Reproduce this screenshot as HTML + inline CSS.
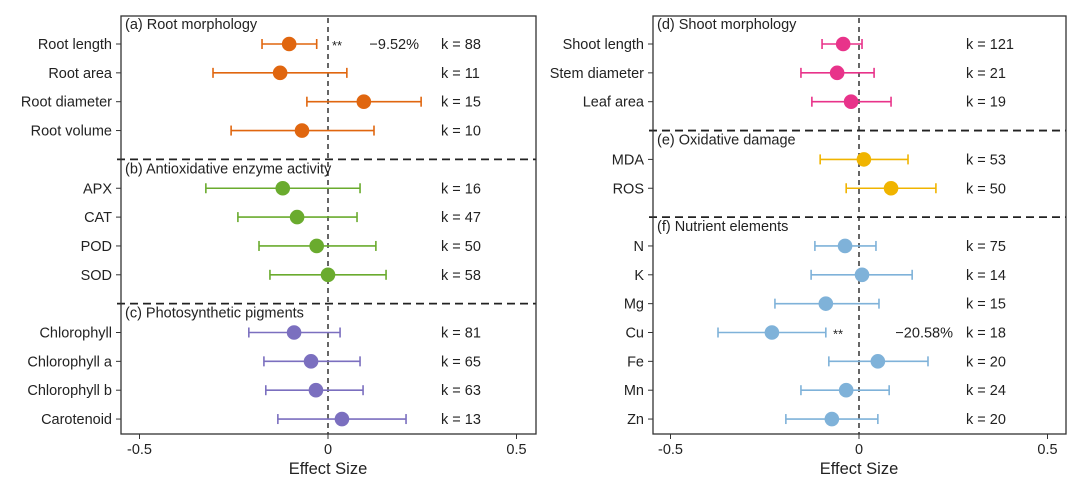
<!DOCTYPE html>
<html><head><meta charset="utf-8"><style>
body{margin:0;background:#fff;}
svg{display:block;font-family:"Liberation Sans",Arial,sans-serif;}
</style></head><body>
<svg id="chart" width="1080" height="480"></svg>
<script>
// Panel 1 data
const leftLabels=["Root length","Root area","Root diameter","Root volume",null,"APX","CAT","POD","SOD",null,"Chlorophyll","Chlorophyll a","Chlorophyll b","Carotenoid"];
const leftEst=[-0.103,-0.127,0.095,-0.069,null,-0.12,-0.082,-0.03,0,null,-0.09,-0.045,-0.032,0.037];
const leftLow=[-0.175,-0.305,-0.056,-0.257,null,-0.324,-0.239,-0.183,-0.154,null,-0.21,-0.17,-0.165,-0.133];
const leftHigh=[-0.03,0.05,0.247,0.122,null,0.085,0.077,0.127,0.154,null,0.032,0.085,0.093,0.207];
const leftK=[88,11,15,10,null,16,47,50,58,null,81,65,63,13];
const leftGroups=["(a) Root morphology","(b) Antioxidative enzyme activity","(c) Photosynthetic pigments"];
const leftColors=["#e0660f","#6aab2e","#7b6fbf"];
// Panel 2 data
const rightLabels=["Shoot length","Stem diameter","Leaf area",null,"MDA","ROS",null,"N","K","Mg","Cu","Fe","Mn","Zn"];
const rightEst=[-0.042,-0.058,-0.021,null,0.013,0.085,null,-0.037,0.008,-0.088,-0.231,0.05,-0.034,-0.072];
const rightLow=[-0.098,-0.154,-0.125,null,-0.103,-0.034,null,-0.117,-0.127,-0.223,-0.374,-0.08,-0.154,-0.194];
const rightHigh=[0.008,0.04,0.085,null,0.13,0.204,null,0.045,0.141,0.053,-0.088,0.183,0.08,0.05];
const rightK=[121,21,19,null,53,50,null,75,14,15,18,20,24,20];
const rightGroups=["(d) Shoot morphology","(e) Oxidative damage","(f) Nutrient elements"];
const rightColors=["#e8338a","#f0b400","#7fb2d9"];
const ticks=[-0.5,0,0.5];
const tickLabels=["-0.5","0","0.5"];

const NS="http://www.w3.org/2000/svg";
const svg=document.getElementById('chart');
function mk(tag,attrs,parent){const e=document.createElementNS(NS,tag);for(const k in attrs)e.setAttribute(k,attrs[k]);(parent||svg).appendChild(e);return e;}

function panel(o){
  const g=mk('g',{});
  
  
  const xs=v=>o.x0+(v)*o.scale;
  const ys=i=>44+i*28.85;
  const zl=mk('line',{x1:xs(0),x2:xs(0),y1:o.top+2,y2:o.bottom,stroke:'#333','stroke-width':1.5,'stroke-dasharray':'5,4'},g);
  
  
  let grp=0;
  const hdr=(txt,y)=>{const t=mk('text',{x:o.left+4,y:y,'font-size':14.5,fill:'#222'},g);t.textContent=txt;
    
    };
  hdr(o.groups[0],o.top+13);
  for(let i=0;i<o.labels.length;i++){
    const y=ys(i);
    if(o.labels[i]===null){
      grp++;
      const sl=mk('line',{x1:o.left-4,x2:o.right,y1:y,y2:y,stroke:'#222','stroke-width':1.8,'stroke-dasharray':'8,5'},g);
      
      
      hdr(o.groups[grp],y+14);
      continue;
    }
    const c=o.colors[grp];
    const lb=mk('text',{x:o.left-9,y:y+5,'font-size':14.5,'text-anchor':'end',fill:'#222'},g);
    lb.textContent=o.labels[i];
    
    
    mk('line',{x1:o.left-5,x2:o.left,y1:y,y2:y,stroke:'#333','stroke-width':1},g);
    const ci=mk('line',{x1:xs(o.low[i]),x2:xs(o.high[i]),y1:y,y2:y,stroke:c,'stroke-width':1.6},g);
    
    
    [o.low[i],o.high[i]].forEach(v=>mk('line',{x1:xs(v),x2:xs(v),y1:y-5,y2:y+5,stroke:c,'stroke-width':1.6},g));
    const pt=mk('circle',{cx:xs(o.est[i]),cy:y,r:7.3,fill:c},g);
    
    
    const kt=mk('text',{x:o.kx,y:y+5,'font-size':14.5,fill:'#222'},g);
    kt.textContent='k = '+o.k[i];
    
    
  }
  o.sig.forEach(s=>{
    const y=ys(s.row);
    const a=mk('text',{x:s.sx,y:y+6,'font-size':13,fill:'#222'},g);a.textContent='**';
    
    
    const p=mk('text',{x:s.px,y:y+5,'font-size':14.5,fill:'#222','text-anchor':'end'},g);p.textContent=s.pct;
    
    
  });
  const box=mk('rect',{x:o.left,y:o.top,width:o.right-o.left,height:o.bottom-o.top,fill:'none',stroke:'#333','stroke-width':1.3},g);
  
  
  ticks.forEach((t,j)=>{
    mk('line',{x1:xs(t),x2:xs(t),y1:o.bottom,y2:o.bottom+5,stroke:'#333'},g);
    const tl=mk('text',{x:xs(t),y:o.bottom+20,'font-size':14.5,'text-anchor':'middle',fill:'#222'},g);
    tl.textContent=tickLabels[j];
    
    
  });
  const xt=mk('text',{x:xs(0),y:o.bottom+40,'font-size':16.5,'text-anchor':'middle',fill:'#222'},g);
  xt.textContent='Effect Size';
  
  
}
panel({name:'left-panel',left:121,right:536,top:16,bottom:434,x0:328,scale:377,kx:441,
  labels:leftLabels,est:leftEst,low:leftLow,high:leftHigh,k:leftK,groups:leftGroups,colors:leftColors,
  sig:[{row:0,sx:332,px:419,pct:'\u22129.52%'}]});
panel({name:'right-panel',left:653,right:1066,top:16,bottom:434,x0:859,scale:377,kx:966,
  labels:rightLabels,est:rightEst,low:rightLow,high:rightHigh,k:rightK,groups:rightGroups,colors:rightColors,
  sig:[{row:10,sx:833,px:953,pct:'\u221220.58%'}]});
</script>
</body></html>
